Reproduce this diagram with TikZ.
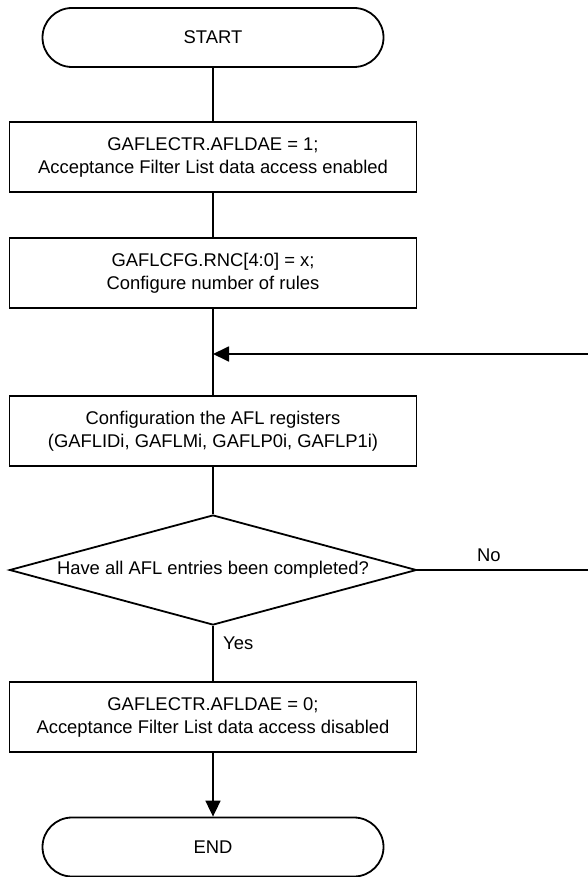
\documentclass[tikz,border=0pt]{standalone}
\usepackage{fontspec}
\setmainfont{Liberation Sans}
\usetikzlibrary{shapes.geometric,shapes.misc,arrows.meta}

\tikzset{
  flow/.style={line width=1.8pt},
  term/.style={draw, line width=1.8pt, rounded rectangle, minimum width=341pt, minimum height=59pt, inner sep=0pt},
  proc/.style={draw, line width=1.8pt, rectangle, minimum width=407pt, minimum height=70pt, inner sep=0pt, align=center},
  decide/.style={draw, line width=1.8pt, diamond, aspect=3.7, minimum width=407pt, minimum height=110pt, inner sep=0pt},
  tip/.style={-{Triangle[length=16pt, width=15pt]}}
}

\begin{document}
\begin{tikzpicture}[x=1pt, y=-1pt, font=\fontsize{18.4}{23}\selectfont]

  \useasboundingbox (0,0) rectangle (588,877);

  % main column
  \node[term] (start) at (213,37.5) {START};
  \node[proc] (enable) at (213,157) {GAFLECTR.AFLDAE = 1;\\Acceptance Filter List data access enabled};
  \node[proc] (rules) at (213,273) {GAFLCFG.RNC[4:0] = x;\\Configure number of rules};
  \node[proc] (regs) at (213,431) {Configuration the AFL registers\\(GAFLIDi, GAFLMi, GAFLP0i, GAFLP1i)};
  \node[decide] (done) at (213,570) {Have all AFL entries been completed?};
  \node[proc] (disable) at (213,717) {GAFLECTR.AFLDAE = 0;\\Acceptance Filter List data access disabled};
  \node[term] (stop) at (213,847) {END};

  % the loop back runs off the right edge
  \coordinate (merge) at (213,354);
  \coordinate (rimlow) at (600,570);
  \coordinate (rimtop) at (600,354);

  \draw[flow] (start) -- (enable);
  \draw[flow] (enable) -- (rules);
  \draw[flow] (rules) -- (regs);
  \draw[flow] (regs) -- (done);
  \draw[flow] (done) -- (disable);
  \draw[flow, tip] (disable) -- (stop);
  \draw[flow, tip] (done.east) -- (rimlow) -- (rimtop) -- (merge);

  % branch labels
  \node[anchor=west, inner sep=0pt] (yes) at (223,643) {Yes};
  \node[anchor=west, inner sep=0pt] (no) at (477,555) {No};

\end{tikzpicture}
\end{document}
